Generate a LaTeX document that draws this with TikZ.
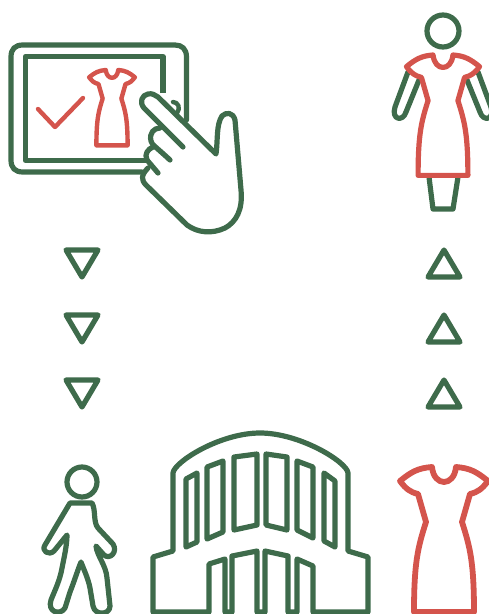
\documentclass[tikz,border=0pt]{standalone}
\usepackage{tikz}
\definecolor{iconGreen}{RGB}{62,107,75}
\definecolor{iconRed}{RGB}{212,84,76}
\tikzset{
  greenline/.style={draw=iconGreen,line width=5.2pt,line join=round,line cap=round},
  redline/.style={draw=iconRed,line width=5.2pt,line join=round,line cap=round},
  pics/dress/.style={code={
    \draw[pic actions] (-12,0) .. controls (-26,1) and (-33,5) .. (-44,14)
      .. controls (-38,22) and (-34,25) .. (-26,27) -- (-18,55)
      .. controls (-26,80) and (-30,95) .. (-30,145) -- (30,145)
      .. controls (30,95) and (26,80) .. (18,55) -- (26,27)
      .. controls (34,25) and (38,22) .. (44,14)
      .. controls (33,5) and (26,1) .. (12,0)
      .. controls (10,20) and (-10,20) .. cycle;
  }}
}
\begin{document}
\begin{tikzpicture}[x=1pt,y=-1pt]
  \useasboundingbox (0,0) rectangle (489,614);
  % tablet
  \draw[greenline] (186.5,120) -- (186.5,57) .. controls (186.5,49) and (182,45) .. (175,45)
    -- (23,45) .. controls (15,45) and (11,49) .. (11,57) -- (11,160)
    .. controls (11,168) and (15,172) .. (23,172) -- (142,172);
  \draw[greenline,line cap=butt] (163,93) -- (163,56.5) -- (25.5,56.5) -- (25.5,160.5) -- (147,160.5);
  \draw[redline,line width=4.4pt] (38,109) -- (55,127) -- (83,98);
  \pic[redline,line width=4.4pt,scale=0.52] at (112,70) {dress};
  % hand
  \draw[greenline] (183,147) -- (144,108) .. controls (139,102) and (142,95) .. (148,94)
    .. controls (152,93) and (155,95) .. (158,97) -- (216,154)
    .. controls (218,140) and (216,125) .. (222,116)
    .. controls (226,112) and (233,112) .. (235,120)
    -- (241,190) .. controls (243,210) and (236,222) .. (225,228)
    .. controls (212,234) and (198,233) .. (187,225) -- (146,185)
    .. controls (141,180) and (141,175) .. (148,168);
  \draw[greenline] (160,128) .. controls (154,128) and (149,133) .. (151,141)
    .. controls (152,145) and (155,146) .. (170,160);
  \draw[greenline] (153,147) .. controls (148,149) and (144,154) .. (147,160)
    -- (158,173);
  \draw[greenline,line width=4.4pt] (173,102) .. controls (178,102) and (181,108) .. (177,113);
  % triangles
  \foreach \ty in {0,65,130} {
    \draw[greenline] (66,250+\ty) -- (98,250+\ty) -- (82,277+\ty) -- cycle;
    \draw[greenline] (428,277+\ty) -- (460,277+\ty) -- (444,250+\ty) -- cycle;
  }
  % woman in dress
  \draw[greenline] (443,31) circle[radius=16];
  \draw[greenline] (408,72) -- (395,107) .. controls (391,120) and (403,122) .. (406,112) -- (419,80);
  \draw[greenline] (478,72) -- (491,107) .. controls (495,120) and (483,122) .. (480,112) -- (467,80);
  \draw[greenline] (429,177) -- (433,209) -- (453,209) -- (458,177);
  \pic[redline,scale=0.83] at (443,55) {dress};
  % person
  \draw[greenline] (82,482) circle[radius=15];
  \draw[greenline] (70,503) -- (92,503) .. controls (96,510) and (93,522) .. (98,528)
    -- (113,544) .. controls (118,552) and (110,560) .. (104,555) -- (96,546)
    .. controls (97,556) and (106,565) .. (107,578) -- (110,606)
    .. controls (110,615) and (95,616) .. (93,606) -- (90,588)
    .. controls (88,578) and (84,570) .. (81,562)
    .. controls (77,572) and (74,582) .. (70,592) -- (65,608)
    .. controls (60,616) and (47,612) .. (51,600)
    .. controls (55,590) and (60,580) .. (62,568)
    .. controls (64,558) and (67,545) .. (67,535) -- (54,551)
    .. controls (49,556) and (41,551) .. (45,545) -- cycle;
  % building
  \draw[greenline] (153,612) -- (153,557) -- (173,551) -- (173,473)
    .. controls (174,462) and (220,433) .. (260,433)
    .. controls (300,433) and (347,462) .. (348,473) -- (348,551) -- (368,557) -- (368,612)
    -- (313,612) -- (313,566) -- (297,559) -- (297,612) -- (288,612) -- (288,556)
    -- (265,551) -- (265,612) -- (257,612) -- (257,551) -- (232,556) -- (232,612)
    -- (225,612) -- (225,559) -- (209,564) -- (209,612) -- cycle;
  \draw[greenline] (186,479) -- (197,473) -- (197,542) -- (186,547) -- cycle;
  \draw[greenline] (207,467) -- (223,461) -- (223,532) -- (207,539) -- cycle;
  \draw[greenline] (234,457) -- (257,454) -- (257,525) -- (234,530) -- cycle;
  \draw[greenline] (266,454) -- (287,457) -- (287,530) -- (266,525) -- cycle;
  \draw[greenline] (297,461) -- (313,467) -- (313,538) -- (297,530) -- cycle;
  \draw[greenline] (324,473) -- (335,481) -- (335,547) -- (324,541) -- cycle;
  % dress
  \pic[redline,line width=5.8pt] at (444,467) {dress};
\end{tikzpicture}
\end{document}
